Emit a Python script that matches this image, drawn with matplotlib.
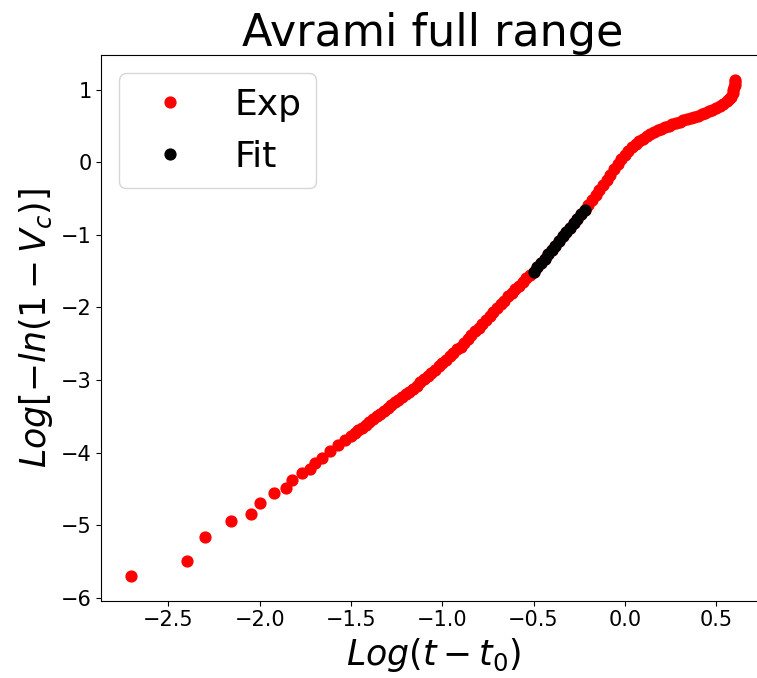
import matplotlib
matplotlib.use("Agg")
import matplotlib.pyplot as plt

# Log(t - t0) vs Log[-ln(1 - Vc)] for the whole transformation
EXP_X = [
    -2.703, -2.400, -2.301, -2.156, -2.046, -2.000, -1.922, -1.854, -1.825,
    -1.770, -1.723, -1.699, -1.657, -1.615, -1.570, -1.531,
    -1.50, -1.48, -1.46, -1.44, -1.42, -1.40, -1.38, -1.36, -1.34, -1.32,
    -1.30, -1.28, -1.26, -1.24, -1.22, -1.20, -1.18, -1.16, -1.14, -1.12,
    -1.10, -1.08, -1.06, -1.04, -1.02, -1.00, -0.98, -0.96, -0.94, -0.92,
    -0.90, -0.88, -0.86, -0.84, -0.82, -0.80, -0.78, -0.76, -0.74, -0.72,
    -0.70, -0.68, -0.66, -0.64, -0.62, -0.60, -0.58, -0.56, -0.54, -0.52,
    -0.50, -0.48, -0.46, -0.44, -0.42, -0.40, -0.38, -0.36, -0.34, -0.32,
    -0.30, -0.28, -0.26, -0.24, -0.22, -0.20, -0.18, -0.16, -0.14, -0.12,
    -0.10, -0.08, -0.06, -0.04, -0.02, 0.00, 0.02, 0.04, 0.06, 0.08,
    0.10, 0.12, 0.14, 0.16, 0.18, 0.20, 0.22, 0.24, 0.26, 0.28,
    0.30, 0.32, 0.34, 0.36, 0.38, 0.40, 0.42, 0.44, 0.46, 0.48,
    0.50, 0.52, 0.54, 0.56, 0.57, 0.58, 0.59, 0.595, 0.600, 0.602,
    0.603, 0.603,
]
EXP_Y = [
    -5.70, -5.49, -5.16, -4.94, -4.85, -4.69, -4.56, -4.49, -4.38,
    -4.28, -4.23, -4.14, -4.07, -3.98, -3.90, -3.83,
    -3.77, -3.73, -3.69, -3.66, -3.62, -3.58, -3.54, -3.50, -3.47, -3.43,
    -3.39, -3.35, -3.31, -3.28, -3.24, -3.20, -3.16, -3.12, -3.08, -3.03,
    -2.99, -2.95, -2.90, -2.86, -2.81, -2.76, -2.72, -2.67, -2.63, -2.58,
    -2.54, -2.49, -2.44, -2.38, -2.33, -2.28, -2.23, -2.17, -2.12, -2.07,
    -2.01, -1.96, -1.91, -1.85, -1.80, -1.75, -1.70, -1.65, -1.60, -1.56,
    -1.51, -1.45, -1.39, -1.33, -1.27, -1.21, -1.15, -1.08, -1.02, -0.96,
    -0.90, -0.84, -0.78, -0.72, -0.66, -0.59, -0.52, -0.45, -0.38, -0.31,
    -0.24, -0.17, -0.10, -0.03, 0.04, 0.10, 0.155, 0.205, 0.25, 0.29,
    0.325, 0.36, 0.39, 0.415, 0.44, 0.46, 0.48, 0.50, 0.52, 0.54,
    0.56, 0.575, 0.59, 0.61, 0.625, 0.64, 0.66, 0.68, 0.70, 0.725,
    0.75, 0.775, 0.80, 0.84, 0.87, 0.90, 0.95, 0.99, 1.03, 1.07,
    1.10, 1.13,
]

# points inside the fitting window
FIT_X = [-0.50, -0.48, -0.46, -0.44, -0.42, -0.40, -0.38, -0.36, -0.34,
         -0.32, -0.30, -0.28, -0.26, -0.24, -0.22]
FIT_Y = [-1.51, -1.45, -1.39, -1.33, -1.27, -1.21, -1.15, -1.08, -1.02,
         -0.96, -0.90, -0.84, -0.78, -0.72, -0.66]

fig = plt.figure(figsize=(7.57, 6.78), dpi=100)
ax = fig.add_axes([0.1337, 0.1140, 0.8770, 0.8043])

ax.plot(EXP_X, EXP_Y, "o", color="red", markersize=7.8, label="Exp")
ax.plot(FIT_X, FIT_Y, "o", color="black", markersize=7.8, label="Fit")

ax.set_title("Avrami full range", fontsize=32)
ax.set_xlabel(r"$Log(t-t_0)$", fontsize=25)
ax.set_ylabel(r"$Log[-ln(1-V_c)]$", fontsize=25)
ax.tick_params(labelsize=15)
ax.legend(loc="upper left", fontsize=26)

fig.savefig("out.png", dpi=100)
